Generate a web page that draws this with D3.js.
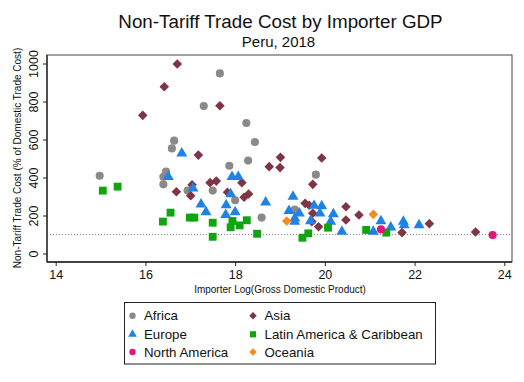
<!DOCTYPE html>
<html><head><meta charset="utf-8">
<script src="https://cdn.jsdelivr.net/npm/d3@7"></script>
<style>body{margin:0;background:#fff;} svg{display:block;font-family:"Liberation Sans",Arial,sans-serif;}</style>
</head><body>
<svg id="c" width="524" height="382"></svg>
<script>
const xTicks = [14, 16, 18, 20, 22, 24];
const yTicks = [0, 200, 400, 600, 800, 1000];
const refLine = 100;

const regions = ["Africa", "Asia", "Europe", "Latin America & Caribbean", "North America", "Oceania"];

const africaX = [14.98, 16.46, 16.40, 16.40, 16.59, 16.64, 17.30, 17.66, 17.50, 16.94, 17.87, 18.00, 18.25, 18.44, 18.29, 18.59, 19.80, 19.33];
const africaY = [409, 431, 404, 364, 553, 594, 776, 948, 331, 331, 462, 280, 687, 587, 489, 189, 415, 231];

const asiaX = [15.94, 16.42, 16.71, 17.66, 17.18, 17.04, 17.01, 16.69, 17.44, 17.58, 17.83, 18.15, 18.20, 18.30, 18.76, 19.01, 19.00, 19.93, 19.73, 19.56, 19.65, 19.73, 19.71, 19.86, 20.47, 20.47, 20.76, 21.72, 22.33, 23.36];
const asiaY = [727, 878, 997, 778, 518, 362, 304, 325, 373, 381, 322, 373, 296, 313, 457, 506, 452, 503, 364, 264, 254, 212, 168, 141, 246, 176, 203, 110, 157, 113];

const europeX = [16.51, 16.81, 17.06, 17.24, 17.35, 17.90, 17.80, 17.79, 18.00, 17.93, 18.07, 18.68, 19.29, 19.20, 19.33, 19.33, 19.43, 19.76, 19.93, 19.89, 19.68, 20.13, 20.19, 20.38, 21.08, 21.25, 21.47, 21.75, 21.77, 22.10];
const europeY = [404, 527, 343, 259, 218, 313, 255, 203, 218, 404, 404, 269, 299, 225, 185, 168, 211, 252, 250, 211, 171, 168, 208, 115, 115, 171, 138, 168, 150, 150];

const latamX = [15.05, 15.38, 16.39, 16.56, 16.99, 17.09, 17.50, 17.50, 17.94, 17.90, 18.10, 18.26, 18.49, 19.50, 19.63, 20.07, 20.92, 21.37];
const latamY = [331, 352, 168, 215, 189, 189, 162, 88, 171, 138, 148, 175, 104, 83, 106, 136, 124, 110];

const namX = [21.25, 23.74];
const namY = [127, 97];

const oceX = [19.15, 21.08];
const oceY = [171, 206];

const colors = ["#8a8a8a", "#7f3545", "#1e82e6", "#10a510", "#e3147c", "#f28b22"];
const shapes = ["circle", "diamond", "triangle", "square", "circle", "diamond"];
const sets = [[africaX, africaY], [asiaX, asiaY], [europeX, europeY], [latamX, latamY], [namX, namY], [oceX, oceY]];

const svg = d3.select("#c");
const L = 47, R = 512, T = 55, B = 262;
const x = d3.scaleLinear().domain([14, 24]).range([55.7, 504.3]);
const y = d3.scaleLinear().domain([0, 1000]).range([253.5, 63.5]);

function sym(shape, scale) {
  if (shape === "circle") return d3.symbol().type(d3.symbolCircle).size(52 * scale)();
  if (shape === "square") return d3.symbol().type(d3.symbolSquare).size(62 * scale)();
  if (shape === "triangle") return d3.symbol().type(d3.symbolTriangle).size(52 * scale)();
  return d3.symbol().type(d3.symbolSquare).size(46 * scale)();
}
function rot(shape) { return shape === "diamond" ? " rotate(45)" : ""; }

// title
svg.append("text").attr("x", 280.5).attr("y", 28).attr("text-anchor", "middle")
  .attr("font-size", 18.8).attr("fill", "#111").text("Non-Tariff Trade Cost by Importer GDP");
svg.append("text").attr("x", 278.5).attr("y", 46.7).attr("text-anchor", "middle")
  .attr("font-size", 15).attr("fill", "#111").text("Peru, 2018");

// frame
svg.append("rect").attr("x", L).attr("y", T).attr("width", R - L).attr("height", B - T)
  .attr("fill", "none").attr("stroke", "#444").attr("stroke-width", 1);

// axes
const xa = svg.append("g").attr("transform", `translate(0,${B})`)
  .call(d3.axisBottom(x).tickValues(xTicks).tickSize(4).tickPadding(4).tickFormat(d3.format("d")));
xa.select(".domain").attr("d", `M${L},0H${R}`).attr("stroke", "#222").attr("stroke-width", 1.3);
xa.selectAll("text").attr("font-size", 12.5).attr("fill", "#111").attr("font-family", "Liberation Sans, Arial, sans-serif");
xa.selectAll(".tick line").attr("stroke", "#222");

const ya = svg.append("g").attr("transform", `translate(${L},0)`)
  .call(d3.axisLeft(y).tickValues(yTicks).tickSize(4).tickPadding(4).tickFormat(d3.format("d")));
ya.select(".domain").attr("d", `M0,${T}V${B}`).attr("stroke", "#222").attr("stroke-width", 1.3);
ya.selectAll(".tick line").attr("stroke", "#222");
ya.selectAll("text").attr("font-size", 12.5).attr("fill", "#111").attr("font-family", "Liberation Sans, Arial, sans-serif")
  .attr("text-anchor", "middle").attr("dy", null).attr("x", null)
  .attr("transform", "translate(-13,0) rotate(-90)").attr("y", 0).attr("dy", "0.35em");

// reference line
svg.append("line").attr("x1", L + 3).attr("x2", R).attr("y1", y(refLine)).attr("y2", y(refLine))
  .attr("stroke", "#888").attr("stroke-width", 1.2).attr("stroke-dasharray", "1,2");

// axis titles
svg.append("text").attr("transform", `translate(21,158) rotate(-90)`).attr("text-anchor", "middle")
  .attr("font-size", 10).attr("fill", "#111").text("Non-Tariff Trade Cost (% of Domestic Trade Cost)");
svg.append("text").attr("x", 280).attr("y", 293).attr("text-anchor", "middle")
  .attr("font-size", 10).attr("fill", "#111").text("Importer Log(Gross Domestic Product)");

// points
sets.forEach((s, i) => {
  const pts = s[0].map((v, j) => [v, s[1][j]]);
  svg.append("g").selectAll("path").data(pts).join("path")
    .attr("d", sym(shapes[i], 1))
    .attr("transform", d => `translate(${x(d[0])},${y(d[1])})${rot(shapes[i])}`)
    .attr("fill", colors[i]);
});

// legend
svg.append("rect").attr("x", 124.5).attr("y", 302.5).attr("width", 311).attr("height", 61.5)
  .attr("fill", "#fff").attr("stroke", "#222").attr("stroke-width", 1);
const lx = [132.5, 253], ly = [315.7, 334.3, 352];
regions.forEach((r, i) => {
  const cx = lx[i % 2], cy = ly[Math.floor(i / 2)];
  svg.append("path").attr("d", sym(shapes[i], 0.62))
    .attr("transform", `translate(${cx},${cy})${rot(shapes[i])}`).attr("fill", colors[i]);
  svg.append("text").attr("x", cx + 11.5).attr("y", cy).attr("dy", "0.36em")
    .attr("font-size", 13.3).attr("fill", "#111").text(r);
});
</script>
</body></html>
